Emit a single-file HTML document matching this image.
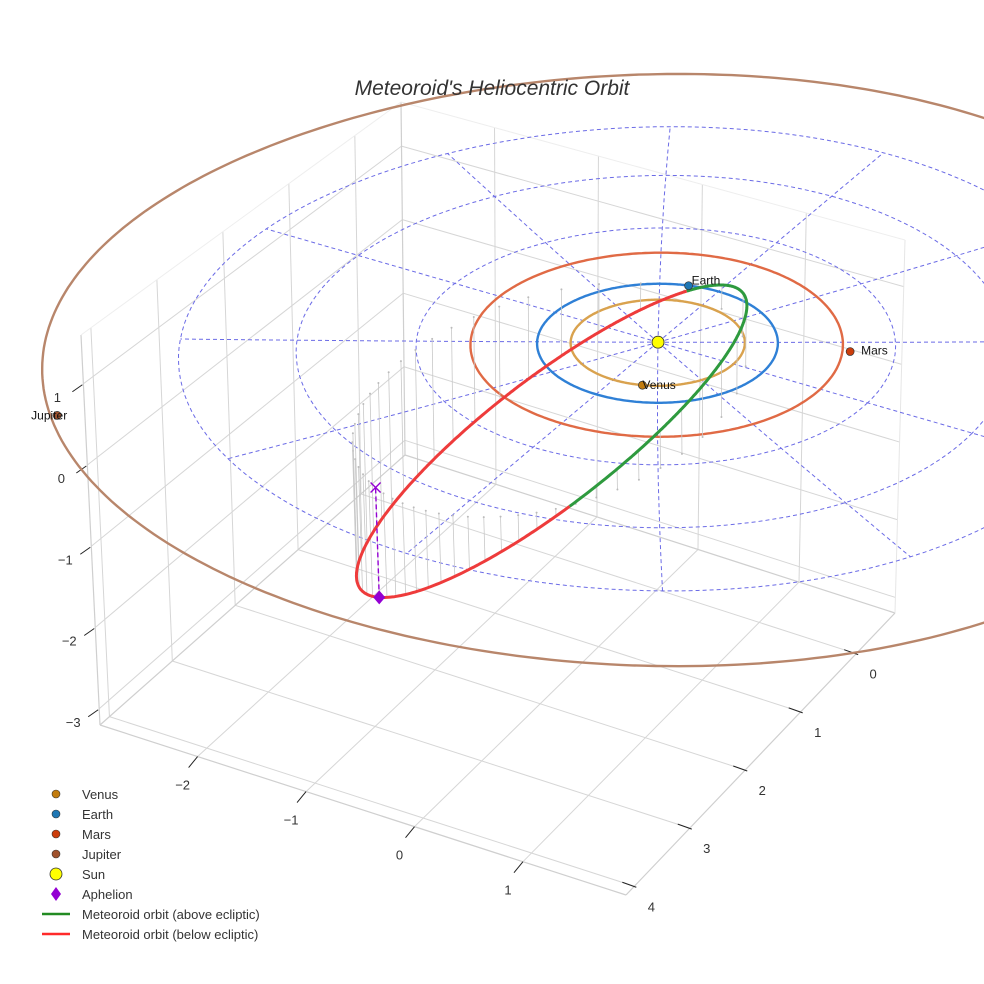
<!DOCTYPE html>
<html><head><meta charset="utf-8"><style>
html,body{margin:0;padding:0;background:#fff;}
svg{display:block;font-family:"Liberation Sans",sans-serif;}
</style></head><body>
<svg id="chart" width="984" height="984" viewBox="0 0 984 984" xmlns="http://www.w3.org/2000/svg">
<rect width="984" height="984" fill="#fff"/>
<g id="box"></g>
<g id="grid"></g>
<g id="orbits"></g>
<g id="stems"></g>
<g id="met"></g>
<g id="marks"></g>
<text x="492" y="95" text-anchor="middle" font-size="21" font-style="italic" fill="#333">Meteoroid's Heliocentric Orbit</text>
<g id="legend" font-size="13" fill="#333">
  <g><circle cx="56" cy="794" r="4" fill="#c27c0e" stroke="#333" stroke-width="0.6"/><text x="82" y="799">Venus</text></g>
  <g><circle cx="56" cy="814" r="4" fill="#1f77b4" stroke="#333" stroke-width="0.6"/><text x="82" y="819">Earth</text></g>
  <g><circle cx="56" cy="834" r="4" fill="#cc3d0b" stroke="#333" stroke-width="0.6"/><text x="82" y="839">Mars</text></g>
  <g><circle cx="56" cy="854" r="4" fill="#a0522d" stroke="#333" stroke-width="0.6"/><text x="82" y="859">Jupiter</text></g>
  <g><circle cx="56" cy="874" r="6" fill="#ffff00" stroke="#333" stroke-width="0.8"/><text x="82" y="879">Sun</text></g>
  <g><polygon points="56,887 61,894 56,901 51,894" fill="#9400d3"/><text x="82" y="899">Aphelion</text></g>
  <g><line x1="42" y1="914" x2="70" y2="914" stroke="#228b22" stroke-width="2.5"/><text x="82" y="919">Meteoroid orbit (above ecliptic)</text></g>
  <g><line x1="42" y1="934" x2="70" y2="934" stroke="#ff2a2a" stroke-width="2.5"/><text x="82" y="939">Meteoroid orbit (below ecliptic)</text></g>
</g>
</svg>
<script>
// ---- data ----
const planetNames = ['Venus','Earth','Mars','Jupiter'];
const planetOrbitRadius = [0.723, 1.0, 1.55, 5.2];
const planetX = [0.25, -0.27, 1.47, -3.62];
const planetY = [0.68, -0.96, -0.67, 3.65];
const meteoroidElements = [2.2, 0.62, 40.5, -105.3, 35.3]; // a, e, i, node, arg. perihelion
const xTicks = [-2, -1, 0, 1];
const yTicks = [0, 1, 2, 3, 4];
const zTicks = [-3, -2, -1, 0, 1];
const gridRadii = [1, 2, 3, 4];
const radialAngles = [0,30,60,90,120,150,180,210,240,270,300,330];

// ---- projection (box corners in screen) ----
const XR=[-2.9,1.95], YR=[-0.7,4.15], ZR=[-3.2,1.6];
const A=[100,725], B=[626,895], C=[895,613], D=[405,455];
const A2=[81,335], B2=[612,478], C2=[905,240], D2=[401,102];
function L(p,q,t){return [p[0]+(q[0]-p[0])*t, p[1]+(q[1]-p[1])*t];}
function P(x,y,z){
  const u=(x-XR[0])/(XR[1]-XR[0]), t=(y-YR[0])/(YR[1]-YR[0]), w=(z-ZR[0])/(ZR[1]-ZR[0]);
  const f=L(L(D,C,u),L(A,B,u),t), tp=L(L(D2,C2,u),L(A2,B2,u),t);
  return L(f,tp,w);
}
const S0=P(0,0,0);
function Q(x,y,z){
  const g=P(x,y,0), dx=g[0]-S0[0], dy=g[1]-S0[1];
  const rn2=(dx/120)*(dx/120)+(dy/57)*(dy/57);
  const f=1+0.000257*dy-0.00158*rn2;
  const h=P(x,y,z);
  return [S0[0]+f*dx+(h[0]-g[0]), S0[1]+f*dy+(h[1]-g[1])];
}
const NS='http://www.w3.org/2000/svg';
function mk(tag,attrs,parent){const e=document.createElementNS(NS,tag);for(const k in attrs)e.setAttribute(k,attrs[k]);parent.appendChild(e);return e;}
function poly(pts){return pts.map(p=>p[0].toFixed(1)+','+p[1].toFixed(1)).join(' ');}
function line3(a,b,attrs,parent,name){
  const p=P(...a),q=P(...b);
  const e=mk('line',Object.assign({x1:p[0],y1:p[1],x2:q[0],y2:q[1]},attrs),parent);
  
  
  return e;
}
const box=document.getElementById('box');
const gs={stroke:'#d6d6d6','stroke-width':1};
xTicks.forEach(x=>line3([x,YR[0],ZR[0]],[x,YR[1],ZR[0]],gs,box,'floor-grid-x'));
yTicks.forEach(y=>line3([XR[0],y,ZR[0]],[XR[1],y,ZR[0]],gs,box,'floor-grid-y'));
yTicks.forEach(y=>line3([XR[0],y,ZR[0]],[XR[0],y,ZR[1]],gs,box,'left-wall-grid-y'));
zTicks.forEach(z=>line3([XR[0],YR[0],z],[XR[0],YR[1],z],gs,box,'left-wall-grid-z'));
xTicks.forEach(x=>line3([x,YR[0],ZR[0]],[x,YR[0],ZR[1]],gs,box,'back-wall-grid-x'));
zTicks.forEach(z=>line3([XR[0],YR[0],z],[XR[1],YR[0],z],gs,box,'back-wall-grid-z'));
const es={stroke:'#cfcfcf','stroke-width':1.2};
line3([XR[0],YR[1],ZR[0]],[XR[1],YR[1],ZR[0]],es,box,'x-axis-line');
line3([XR[1],YR[0],ZR[0]],[XR[1],YR[1],ZR[0]],es,box,'y-axis-line');
line3([XR[0],YR[1],ZR[0]],[XR[0],YR[1],ZR[1]],es,box,'z-axis-line');
line3([XR[0],YR[0],ZR[0]],[XR[0],YR[1],ZR[0]],es,box,'floor-edge');
line3([XR[0],YR[0],ZR[0]],[XR[1],YR[0],ZR[0]],es,box,'floor-edge');
line3([XR[0],YR[0],ZR[0]],[XR[0],YR[0],ZR[1]],es,box,'wall-edge');
line3([XR[1],YR[0],ZR[0]],[XR[1],YR[0],ZR[1]],{stroke:'#e6e6e6','stroke-width':1},box,'wall-edge');
line3([XR[0],YR[0],ZR[1]],[XR[1],YR[0],ZR[1]],{stroke:'#eeeeee','stroke-width':1},box,'top-edge');
line3([XR[0],YR[0],ZR[1]],[XR[0],YR[1],ZR[1]],{stroke:'#eeeeee','stroke-width':1},box,'top-edge');
const tk={stroke:'#222','stroke-width':1};
xTicks.forEach(x=>{
  const p=P(x,YR[1],ZR[0]);
  const l=mk('line',{x1:p[0]-9,y1:p[1]+11,x2:p[0],y2:p[1],...tk},box);
  
  
  const t=mk('text',{x:p[0]-15,y:p[1]+33,'font-size':13,fill:'#333','text-anchor':'middle'},box);
  t.textContent=x===0?'0':String(x).replace('-','\u2212');
  
  
});
yTicks.forEach(y=>{
  const p=P(XR[1],y,ZR[0]);
  const l=mk('line',{x1:p[0]-12,y1:p[1]-4,x2:p[0]+2,y2:p[1]+1,...tk},box);
  
  
  const t=mk('text',{x:p[0]+17,y:p[1]+25,'font-size':13,fill:'#333','text-anchor':'middle'},box);
  t.textContent=String(y);
  
  
});
zTicks.forEach(z=>{
  const p=P(XR[0],YR[1],z);
  const l=mk('line',{x1:p[0]-11,y1:p[1]+8,x2:p[0]-1,y2:p[1]+1,...tk},box);
  
  
  const t=mk('text',{x:p[0]-26,y:p[1]+18,'font-size':13,fill:'#333','text-anchor':'middle'},box);
  t.textContent=z===0?'0':String(z).replace('-','\u2212');
  
  
});

const grid=document.getElementById('grid');
const dash={fill:'none',stroke:'#6b6be6','stroke-width':1,'stroke-dasharray':'4,3'};
gridRadii.forEach(r=>{
  const pts=[];for(let k=0;k<=180;k++){const a=k*2*Math.PI/180;pts.push(Q(r*Math.cos(a),r*Math.sin(a),0));}
  const e=mk('polyline',{points:poly(pts),...dash},grid);
  
  
});
radialAngles.forEach(d=>{
  const a=d*Math.PI/180, m=gridRadii[gridRadii.length-1];
  const pts=[];for(let k=0;k<=20;k++){const r=m*k/20;pts.push(Q(r*Math.cos(a),r*Math.sin(a),0));}
  const e=mk('polyline',{points:poly(pts),...dash},grid);
  
  
});

const orbitColors=['#d9a24e','#2f80d6','#e06a45','#b8866b'];
const markerColors=['#c27c0e','#1f77b4','#cc3d0b','#a0522d'];
const orbG=document.getElementById('orbits');
planetOrbitRadius.forEach((r,i)=>{
  const pts=[];for(let k=0;k<=360;k++){const a=k*Math.PI/180;pts.push(Q(r*Math.cos(a),r*Math.sin(a),0));}
  const e=mk('polyline',{points:poly(pts),fill:'none',stroke:orbitColors[i],'stroke-width':2.4},orbG);
  
  
});

const [ma,me,mi,mO,mw]=meteoroidElements;
const inc=mi*Math.PI/180, Om=mO*Math.PI/180, w=mw*Math.PI/180;
const n=[Math.cos(Om),Math.sin(Om)], pp=[-Math.sin(Om),Math.cos(Om)];
const semi=ma*(1-me*me);
function pos(nu){
  const r=semi/(1+me*Math.cos(nu)), u=nu+w;
  return [r*(Math.cos(u)*n[0]+Math.sin(u)*Math.cos(inc)*pp[0]),
          r*(Math.cos(u)*n[1]+Math.sin(u)*Math.cos(inc)*pp[1]),
          r*Math.sin(u)*Math.sin(inc)];
}
const stemG=document.getElementById('stems');
for(let k=0;k<50;k++){
  const M=2*Math.PI*k/50;let E=M;for(let j=0;j<30;j++)E=E-(E-me*Math.sin(E)-M)/(1-me*Math.cos(E));
  const nu=2*Math.atan2(Math.sqrt(1+me)*Math.sin(E/2),Math.sqrt(1-me)*Math.cos(E/2));
  const q=pos(nu);const a=Q(q[0],q[1],q[2]),b=Q(q[0],q[1],0);
  const l=mk('line',{x1:a[0],y1:a[1],x2:b[0],y2:b[1],stroke:'#c8c8c8','stroke-width':0.8},stemG);
  
  
  const c=mk('circle',{cx:b[0],cy:b[1],r:1,fill:'#bbb'},stemG);
  
  
}
const metG=document.getElementById('met');
let seg=[],segAbove=null;
function flush(){
  if(seg.length>1){
    const e=mk('polyline',{points:poly(seg),fill:'none',stroke:segAbove?'#2e9a3e':'#ee3b3b','stroke-width':3,'stroke-linejoin':'round'},metG);
    
    
  }
}
for(let k=0;k<=720;k++){
  const q=pos(-Math.PI+k*Math.PI/360);const above=q[2]>=0;const s=Q(...q);
  if(segAbove===null)segAbove=above;
  if(above!==segAbove){seg.push(s);flush();seg=[s];segAbove=above;}else seg.push(s);
}
flush();

const mg=document.getElementById('marks');
const ap=pos(Math.PI), apS=Q(...ap), apF=Q(ap[0],ap[1],0);
let e=mk('line',{x1:apS[0],y1:apS[1],x2:apF[0],y2:apF[1],stroke:'#9400d3','stroke-width':1.4,'stroke-dasharray':'5,3'},mg);


e=mk('path',{d:`M${apF[0]-5},${apF[1]-5}L${apF[0]+5},${apF[1]+5}M${apF[0]+5},${apF[1]-5}L${apF[0]-5},${apF[1]+5}`,stroke:'#9400d3','stroke-width':1.4},mg);


e=mk('polygon',{points:`${apS[0]},${apS[1]-7} ${apS[0]+6},${apS[1]} ${apS[0]},${apS[1]+7} ${apS[0]-6},${apS[1]}`,fill:'#9400d3'},mg);


const sun=Q(0,0,0);
e=mk('circle',{cx:sun[0],cy:sun[1],r:6,fill:'#ffff00',stroke:'#333','stroke-width':0.9},mg);


const labelDx=[0,3,11,-26], labelDy=[4,-1,3,4];
planetNames.forEach((nm,i)=>{
  const s=Q(planetX[i],planetY[i],0);
  const c=mk('circle',{cx:s[0],cy:s[1],r:4,fill:markerColors[i],stroke:'#333','stroke-width':0.7},mg);
  
  
  const t=mk('text',{x:s[0]+labelDx[i],y:s[1]+labelDy[i],'font-size':12,fill:'#111'},mg);
  t.textContent=nm;
  
  
});
</script>
</body></html>
